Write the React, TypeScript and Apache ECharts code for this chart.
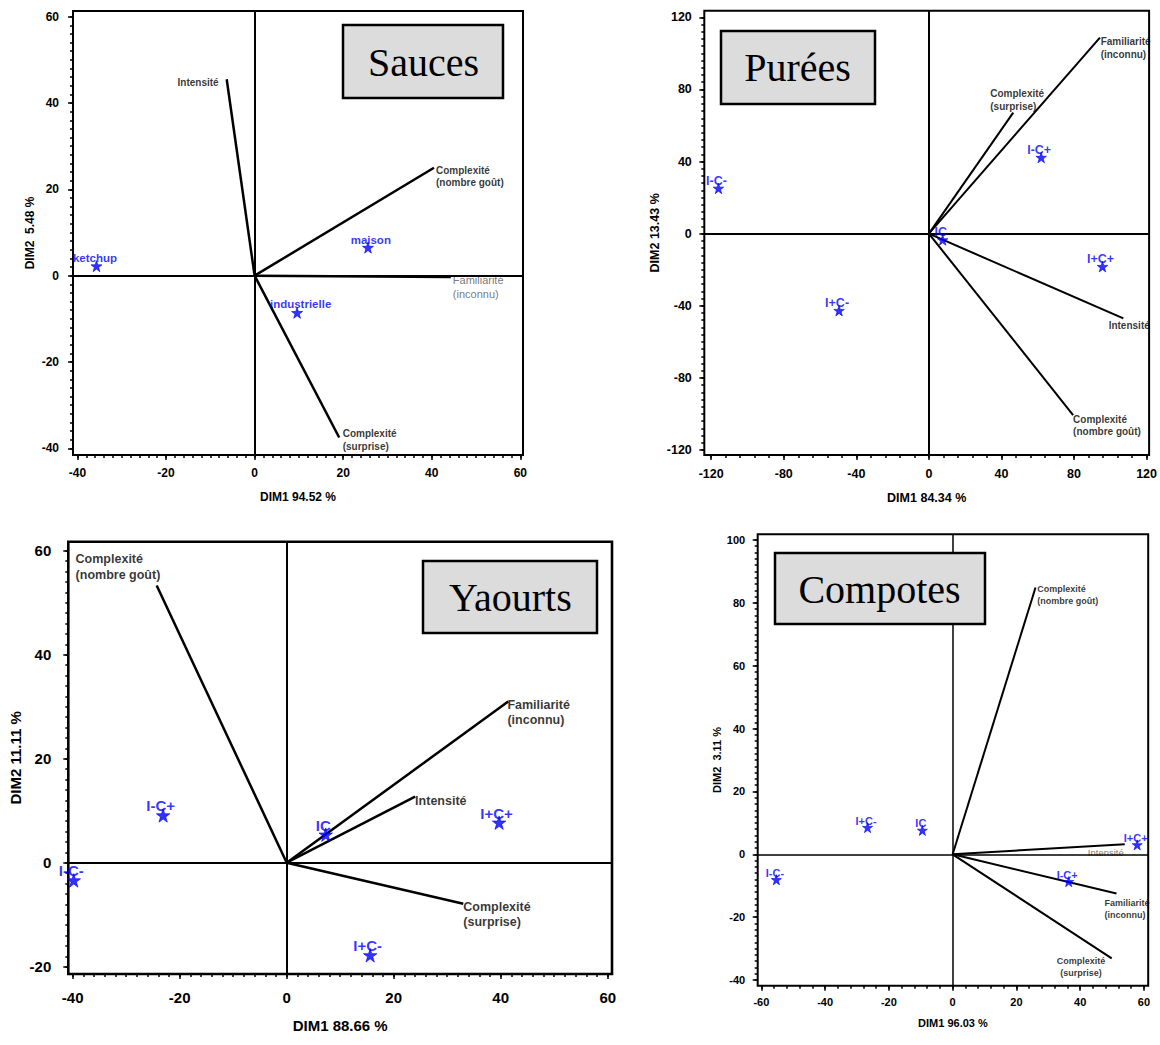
import React, { useEffect, useRef } from 'react';
import * as echarts from 'echarts';

const SANS = "'Liberation Sans', Arial, Helvetica, sans-serif";
const SERIF = "'Liberation Serif', 'Times New Roman', serif";
const BLUE = '#0000ff';
const STAR = 'path://M50,0 L61.2,34.5 L97.6,34.5 L68.2,55.9 L79.4,90.5 L50,69.1 L20.6,90.5 L31.8,55.9 L2.4,34.5 L38.8,34.5 Z';

// ---------- Sauces ----------
const saucesVarNames = ['Intensité', 'Complexité\n(nombre goût)', 'Familiarité\n(inconnu)', 'Complexité\n(surprise)'];
const saucesVarX = [-6.3, 40.5, 44.3, 19.1];
const saucesVarY = [45.5, 25.0, -0.3, -37.5];
const saucesProdNames = ['ketchup', 'maison', 'industrielle'];
const saucesProdX = [-35.7, 25.6, 9.6];
const saucesProdY = [2.2, 6.5, -8.6];
const saucesXTicks = [-40, -20, 0, 20, 40, 60];
const saucesYTicks = [-40, -20, 0, 20, 40, 60];

// ---------- Purées ----------
const pureesVarNames = ['Familiarité\n(inconnu)', 'Complexité\n(surprise)', 'Intensité', 'Complexité\n(nombre goût)'];
const pureesVarX = [94.3, 46.5, 107.2, 79.5];
const pureesVarY = [108.7, 67.1, -47.0, -100.6];
const pureesProdNames = ['I-C-', 'I-C+', 'IC', 'I+C+', 'I+C-'];
const pureesProdX = [-116, 61.9, 7.6, 95.7, -49.5];
const pureesProdY = [25.1, 42.2, -3.5, -18.3, -42.7];
const pureesXTicks = [-120, -80, -40, 0, 40, 80, 120];
const pureesYTicks = [-120, -80, -40, 0, 40, 80, 120];

// ---------- Yaourts ----------
const yaourtsVarNames = ['Complexité\n(nombre goût)', 'Familiarité\n(inconnu)', 'Intensité', 'Complexité\n(surprise)'];
const yaourtsVarX = [-24.3, 41.4, 24.0, 33.0];
const yaourtsVarY = [53.3, 31.0, 12.7, -7.9];
const yaourtsProdNames = ['I-C+', 'IC', 'I+C+', 'I-C-', 'I+C-'];
const yaourtsProdX = [-23.1, 7.3, 39.7, -39.8, 15.6];
const yaourtsProdY = [9.1, 5.4, 7.7, -3.4, -17.8];
const yaourtsXTicks = [-40, -20, 0, 20, 40, 60];
const yaourtsYTicks = [-20, 0, 20, 40, 60];

// ---------- Compotes ----------
const compotesVarNames = ['Complexité\n(nombre goût)', 'Intensité', 'Familiarité\n(inconnu)', 'Complexité\n(surprise)'];
const compotesVarX = [26.0, 54.0, 51.4, 49.9];
const compotesVarY = [84.9, 3.2, -12.5, -33.1];
const compotesProdNames = ['I+C-', 'IC', 'I+C+', 'I-C-', 'I-C+'];
const compotesProdX = [-26.7, -9.5, 57.9, -55.3, 36.4];
const compotesProdY = [8.5, 7.6, 3.0, -8.1, -8.7];
const compotesXTicks = [-60, -40, -20, 0, 20, 40, 60];
const compotesYTicks = [-40, -20, 0, 20, 40, 60, 80, 100];

type Align = 'left' | 'right' | 'center';
interface VarLabel { dx: number; dy: number; align: Align; vAlign: 'top' | 'middle'; muted?: boolean }

interface Panel {
  title: string;
  titleBox: [number, number, number, number];
  titleCenter: [number, number];
  rect: [number, number, number, number];
  xRange: [number, number];
  yRange: [number, number];
  xTicks: number[];
  yTicks: number[];
  xMinor: number;
  yMinor: number;
  xName: string;
  yName: string;
  varNames: string[];
  varX: number[];
  varY: number[];
  varLabels: VarLabel[];
  prodNames: string[];
  prodX: number[];
  prodY: number[];
  prodOffsets: [number, number][];
  fonts: { tick: number; name: number; varLabel: number; varLine: number; muted: number; mutedLine: number; prod: number; star: number };
  gaps: { xLabel: number; yLabel: number; xName: number; yName: number };
  frameWidth: number;
  zeroWidth: number;
  vecWidth: number;
}

const repeat = (n: number, v: [number, number]) => Array.from({ length: n }, () => v);

const panels: Panel[] = [
  {
    title: 'Sauces',
    titleBox: [343, 25, 160, 73],
    titleCenter: [423.5, 62],
    rect: [73, 11, 450, 444],
    xRange: [-41, 60.6],
    yRange: [-41.55, 61.32],
    xTicks: saucesXTicks,
    yTicks: saucesYTicks,
    xMinor: 2,
    yMinor: 2,
    xName: 'DIM1 94.52 %',
    yName: 'DIM2\u00a0 5.48 %',
    varNames: saucesVarNames,
    varX: saucesVarX,
    varY: saucesVarY,
    varLabels: [
      { dx: -8, dy: 3.4, align: 'right', vAlign: 'middle' },
      { dx: 2, dy: -4, align: 'left', vAlign: 'top' },
      { dx: 2, dy: -3.3, align: 'left', vAlign: 'top', muted: true },
      { dx: 3.5, dy: -10, align: 'left', vAlign: 'top' },
    ],
    prodNames: saucesProdNames,
    prodX: saucesProdX,
    prodY: saucesProdY,
    prodOffsets: [[-1.5, -7.7], [2.8, -7.7], [3.5, -9]],
    fonts: { tick: 12, name: 12, varLabel: 10, varLine: 12.6, muted: 11, mutedLine: 13.3, prod: 11.5, star: 11 },
    gaps: { xLabel: 12, yLabel: 14, xName: 36, yName: 37 },
    frameWidth: 2,
    zeroWidth: 2,
    vecWidth: 2.5,
  },
  {
    title: 'Purées',
    titleBox: [721, 31, 154, 73],
    titleCenter: [797.5, 67.5],
    rect: [704.3, 10.7, 447.7, 444.3],
    xRange: [-123.8, 121.4],
    yRange: [-122.77, 123.66],
    xTicks: pureesXTicks,
    yTicks: pureesYTicks,
    xMinor: 8,
    yMinor: 4,
    xName: 'DIM1 84.34 %',
    yName: 'DIM2 13.43 %',
    varNames: pureesVarNames,
    varX: pureesVarX,
    varY: pureesVarY,
    varLabels: [
      { dx: 0.7, dy: -2.2, align: 'left', vAlign: 'top' },
      { dx: -23, dy: -25.6, align: 'left', vAlign: 'top' },
      { dx: -14.7, dy: 6.7, align: 'left', vAlign: 'middle' },
      { dx: 0, dy: -2.2, align: 'left', vAlign: 'top' },
    ],
    prodNames: pureesProdNames,
    prodX: pureesProdX,
    prodY: pureesProdY,
    prodOffsets: repeat(5, [-2, -7.5]),
    fonts: { tick: 12.5, name: 12.5, varLabel: 10, varLine: 12.7, muted: 10, mutedLine: 12.7, prod: 12.5, star: 10.5 },
    gaps: { xLabel: 12, yLabel: 12.5, xName: 36, yName: 43 },
    frameWidth: 2,
    zeroWidth: 2,
    vecWidth: 2,
  },
  {
    title: 'Yaourts',
    titleBox: [423, 561, 174, 72],
    titleCenter: [510.4, 597.5],
    rect: [68.3, 541.7, 543.7, 432.3],
    xRange: [-40.82, 60.8],
    yRange: [-21.4, 61.73],
    xTicks: yaourtsXTicks,
    yTicks: yaourtsYTicks,
    xMinor: 2,
    yMinor: 2,
    xName: 'DIM1 88.66 %',
    yName: 'DIM2 11.11 %',
    varNames: yaourtsVarNames,
    varX: yaourtsVarX,
    varY: yaourtsVarY,
    varLabels: [
      { dx: -81.1, dy: -34, align: 'left', vAlign: 'top' },
      { dx: -0.8, dy: -4.5, align: 'left', vAlign: 'top' },
      { dx: 0, dy: 4, align: 'left', vAlign: 'middle' },
      { dx: 0, dy: -4.7, align: 'left', vAlign: 'top' },
    ],
    prodNames: yaourtsProdNames,
    prodX: yaourtsProdX,
    prodY: yaourtsProdY,
    prodOffsets: repeat(5, [-2.5, -9.5]),
    fonts: { tick: 15, name: 15, varLabel: 12.5, varLine: 15.5, muted: 12.5, mutedLine: 15.5, prod: 15, star: 13.5 },
    gaps: { xLabel: 16, yLabel: 17, xName: 43.5, yName: 45.5 },
    frameWidth: 2.6,
    zeroWidth: 2,
    vecWidth: 2.5,
  },
  {
    title: 'Compotes',
    titleBox: [775, 553, 210, 71],
    titleCenter: [879.5, 589.5],
    rect: [757.7, 534.3, 390.5, 451.4],
    xRange: [-61.16, 61.35],
    yRange: [-41.8, 101.8],
    xTicks: compotesXTicks,
    yTicks: compotesYTicks,
    xMinor: 4,
    yMinor: 2,
    xName: 'DIM1 96.03 %',
    yName: 'DIM2\u00a0 3.11 %',
    varNames: compotesVarNames,
    varX: compotesVarX,
    varY: compotesVarY,
    varLabels: [
      { dx: 1.7, dy: -3.9, align: 'left', vAlign: 'top' },
      { dx: -1, dy: 8.3, align: 'right', vAlign: 'middle', muted: true },
      { dx: -12, dy: 3.9, align: 'left', vAlign: 'top' },
      { dx: -30.6, dy: -3.5, align: 'center', vAlign: 'top' },
    ],
    prodNames: compotesProdNames,
    prodX: compotesProdX,
    prodY: compotesProdY,
    prodOffsets: repeat(5, [-1.5, -7]),
    fonts: { tick: 11, name: 11, varLabel: 9, varLine: 11.8, muted: 9.5, mutedLine: 11.8, prod: 11, star: 10 },
    gaps: { xLabel: 11, yLabel: 12.5, xName: 31.5, yName: 31.5 },
    frameWidth: 2,
    zeroWidth: 1.5,
    vecWidth: 2,
  },
];

// positions of the small ticks between labelled ones
function minorTicks(min: number, max: number, step: number): number[] {
  const out: number[] = [];
  for (let v = Math.ceil(min / step) * step; v <= max + 1e-9; v += step) out.push(Math.round(v * 1000) / 1000);
  return out;
}

function buildOption(list: Panel[]) {
  const grid: any[] = [];
  const xAxis: any[] = [];
  const yAxis: any[] = [];
  const series: any[] = [];
  const graphic: any[] = [];

  list.forEach((p, i) => {
    const ax = 2 * i;
    grid.push({
      left: p.rect[0],
      top: p.rect[1],
      width: p.rect[2],
      height: p.rect[3],
      show: true,
      borderColor: '#000',
      borderWidth: p.frameWidth,
      backgroundColor: 'transparent',
    });
    const tickText = { fontFamily: SANS, fontWeight: 'bold', fontSize: p.fonts.tick, color: '#000' };
    const nameText = { fontFamily: SANS, fontWeight: 'bold', fontSize: p.fonts.name, color: '#000' };
    const tickLine = { color: '#000', width: 1.5 };
    const hiddenLine = { show: false, onZero: false };

    xAxis.push({
      type: 'value', gridIndex: i, position: 'bottom', min: p.xRange[0], max: p.xRange[1],
      name: p.xName, nameLocation: 'middle', nameGap: p.gaps.xName, nameTextStyle: nameText,
      axisLine: hiddenLine, splitLine: { show: false },
      axisTick: { show: true, length: 5, customValues: p.xTicks, lineStyle: tickLine },
      axisLabel: { show: true, customValues: p.xTicks, margin: p.gaps.xLabel, ...tickText },
    });
    xAxis.push({
      type: 'value', gridIndex: i, position: 'bottom', min: p.xRange[0], max: p.xRange[1],
      axisLine: hiddenLine, splitLine: { show: false }, axisLabel: { show: false },
      axisTick: { show: true, length: 3, customValues: minorTicks(p.xRange[0], p.xRange[1], p.xMinor), lineStyle: tickLine },
    });
    yAxis.push({
      type: 'value', gridIndex: i, position: 'left', min: p.yRange[0], max: p.yRange[1],
      name: p.yName, nameLocation: 'middle', nameGap: p.gaps.yName, nameTextStyle: nameText,
      axisLine: hiddenLine, splitLine: { show: false },
      axisTick: { show: true, length: 5, customValues: p.yTicks, lineStyle: tickLine },
      axisLabel: { show: true, customValues: p.yTicks, margin: p.gaps.yLabel, ...tickText },
    });
    yAxis.push({
      type: 'value', gridIndex: i, position: 'left', min: p.yRange[0], max: p.yRange[1],
      axisLine: hiddenLine, splitLine: { show: false }, axisLabel: { show: false },
      axisTick: { show: true, length: 3, customValues: minorTicks(p.yRange[0], p.yRange[1], p.yMinor), lineStyle: tickLine },
    });

    // variable vectors from the origin, the first one also carries the zero cross-hair
    p.varNames.forEach((n, j) => {
      const s: any = {
        type: 'line', name: n, xAxisIndex: ax, yAxisIndex: ax, silent: true,
        data: [[0, 0], [p.varX[j], p.varY[j]]],
        symbol: 'none', lineStyle: { color: '#000', width: p.vecWidth }, z: 3,
      };
      if (j === 0) {
        s.markLine = {
          silent: true, symbol: ['none', 'none'], label: { show: false },
          lineStyle: { color: '#000', width: p.zeroWidth, type: 'solid' },
          data: [{ xAxis: 0 }, { yAxis: 0 }],
        };
      }
      series.push(s);
    });

    // variable names at the vector tips
    series.push({
      type: 'scatter', xAxisIndex: ax, yAxisIndex: ax, silent: true, symbolSize: 0, z: 4,
      data: p.varNames.map((n, j) => {
        const l = p.varLabels[j];
        return {
          value: [p.varX[j], p.varY[j]],
          label: {
            show: true, formatter: n, position: [l.dx, l.dy], align: l.align, verticalAlign: l.vAlign,
            fontFamily: SANS,
            fontWeight: l.muted ? 'normal' : 'bold',
            fontSize: l.muted ? p.fonts.muted : p.fonts.varLabel,
            lineHeight: l.muted ? p.fonts.mutedLine : p.fonts.varLine,
            color: l.muted ? '#555' : '#000',
          },
        };
      }),
    });

    // products
    series.push({
      type: 'scatter', xAxisIndex: ax, yAxisIndex: ax, silent: true, z: 5,
      symbol: STAR, symbolSize: p.fonts.star,
      itemStyle: { color: BLUE, borderColor: BLUE, borderWidth: 0.8 },
      data: p.prodNames.map((n, j) => ({
        name: n, value: [p.prodX[j], p.prodY[j]],
        label: { offset: p.prodOffsets[j] },
      })),
      label: {
        show: true, position: 'inside', formatter: '{b}', color: BLUE, textBorderWidth: 0,
        fontFamily: SANS, fontWeight: 'bold', fontSize: p.fonts.prod,
      },
    });

    // title box, kept above the plot lines
    graphic.push({
      type: 'rect', z: 100,
      shape: { x: p.titleBox[0], y: p.titleBox[1], width: p.titleBox[2], height: p.titleBox[3] },
      style: { fill: '#dcdcdc', stroke: '#000', lineWidth: 2.5 },
    });
    graphic.push({
      type: 'text', z: 101, x: p.titleCenter[0], y: p.titleCenter[1],
      style: { text: p.title, fill: '#000', fontFamily: SERIF, fontSize: 40, align: 'center', verticalAlign: 'middle' },
    });
  });

  return { animation: false, backgroundColor: '#fff', grid, xAxis, yAxis, series, graphic };
}

export default function App() {
  const ref = useRef<HTMLDivElement>(null);
  useEffect(() => {
    if (!ref.current) return;
    const chart = echarts.init(ref.current, undefined, { renderer: 'svg' });
    chart.setOption(buildOption(panels));
    return () => chart.dispose();
  }, []);
  return <div ref={ref} style={{ position: 'absolute', left: 0, top: 0, width: 1160, height: 1045 }} />;
}
